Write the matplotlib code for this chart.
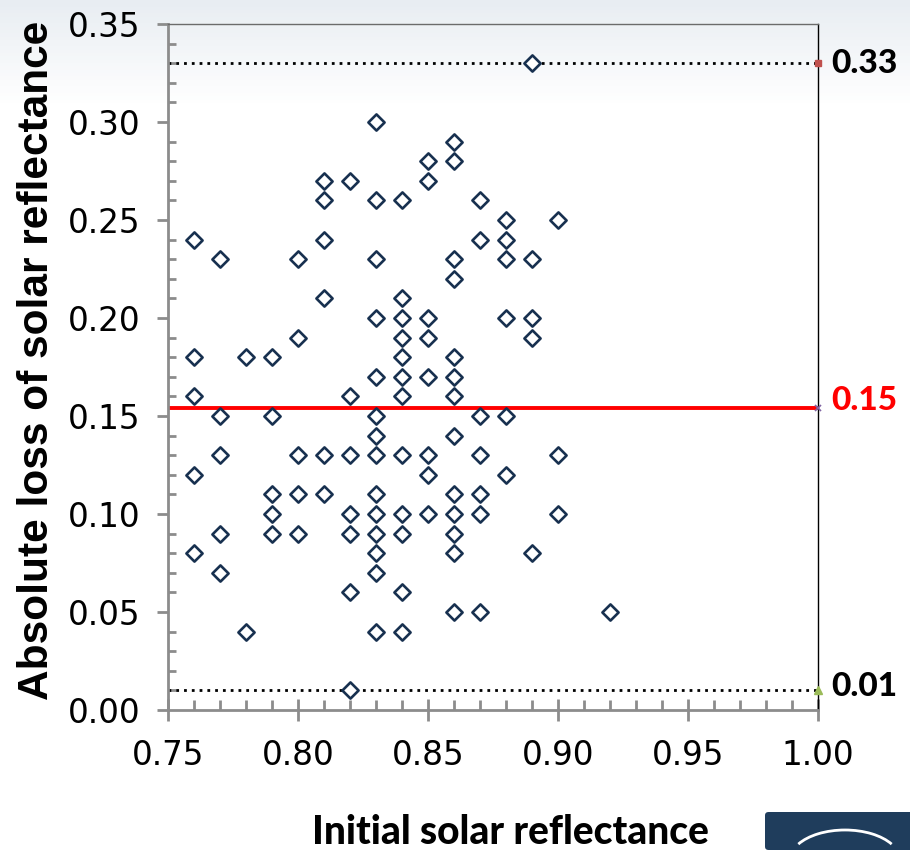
import numpy as np
import matplotlib
matplotlib.use("Agg")
import matplotlib.pyplot as plt
from matplotlib.patches import FancyBboxPatch, Arc
from matplotlib.ticker import MultipleLocator

# --- data: initial reflectance -> list of absolute losses ---
initial = [0.76, 0.77, 0.78, 0.79, 0.80, 0.81, 0.82, 0.83, 0.84, 0.85,
           0.86, 0.87, 0.88, 0.89, 0.90, 0.92]
losses = [
    [0.24, 0.18, 0.16, 0.12, 0.08],
    [0.23, 0.15, 0.13, 0.09, 0.07],
    [0.18, 0.04],
    [0.18, 0.15, 0.11, 0.10, 0.09],
    [0.23, 0.19, 0.13, 0.11, 0.09],
    [0.27, 0.26, 0.24, 0.21, 0.13, 0.11],
    [0.27, 0.16, 0.13, 0.10, 0.09, 0.06, 0.01],
    [0.30, 0.26, 0.23, 0.20, 0.17, 0.15, 0.14, 0.13, 0.11, 0.10, 0.09, 0.08, 0.07, 0.04],
    [0.26, 0.21, 0.20, 0.19, 0.18, 0.17, 0.16, 0.13, 0.10, 0.09, 0.06, 0.04],
    [0.28, 0.27, 0.20, 0.19, 0.17, 0.13, 0.12, 0.10],
    [0.29, 0.28, 0.23, 0.22, 0.18, 0.17, 0.16, 0.14, 0.11, 0.10, 0.09, 0.08, 0.05],
    [0.26, 0.24, 0.15, 0.13, 0.11, 0.10, 0.05],
    [0.25, 0.24, 0.23, 0.20, 0.15, 0.12],
    [0.33, 0.23, 0.20, 0.19, 0.08],
    [0.25, 0.13, 0.10],
    [0.05],
]
loss_max = 0.33
loss_mean = 0.154
loss_min = 0.01
ref_labels = ["0.33", "0.15", "0.01"]

xs = np.concatenate([[x] * len(l) for x, l in zip(initial, losses)])
ys = np.concatenate(losses)

fig = plt.figure(figsize=(9.1, 8.5), dpi=100)

# slide-style background: light gradient at the top
bg = fig.add_axes([0, 0, 1, 1], zorder=-10)
grad = np.linspace(0, 1, 256)[:, None]
grad = np.clip(grad / 0.12, 0, 1)
top = np.array([0.91, 0.93, 0.95])
img = top[None, None, :] * (1 - grad[:, :, None]) + np.ones(3)[None, None, :] * grad[:, :, None]
bg.imshow(img, aspect="auto", extent=[0, 1, 0, 1], origin="upper")
bg.axis("off")

ax = fig.add_axes([168 / 910, 140 / 850, 650 / 910, 686 / 850])
ax.set_facecolor("none")

ax.scatter(xs, ys, marker="D", s=68, facecolors="white",
           edgecolors="#17304f", linewidths=1.9, zorder=3)

ax.axhline(loss_max, color="black", ls=(0, (1, 1.8)), lw=2, zorder=2)
ax.axhline(loss_min, color="black", ls=(0, (1, 1.8)), lw=2, zorder=2)
ax.axhline(loss_mean, color="#ff0000", lw=2.8, zorder=2)
ax.plot([1.0], [loss_max], marker="s", ms=5, color="#c0504d", clip_on=False, zorder=5)
ax.plot([1.0], [loss_mean], marker="x", ms=5, mew=1.2, color="#8064a2", clip_on=False, zorder=5)
ax.plot([1.0], [loss_min], marker="^", ms=6, color="#9bbb59", clip_on=False, zorder=5)

ax.set_xlim(0.75, 1.0)
ax.set_ylim(0.0, 0.35)
ax.xaxis.set_major_locator(MultipleLocator(0.05))
ax.xaxis.set_minor_locator(MultipleLocator(0.01))
ax.yaxis.set_major_locator(MultipleLocator(0.05))
ax.yaxis.set_minor_locator(MultipleLocator(0.01))
ax.xaxis.set_major_formatter(lambda v, p: f"{v:.2f}")
ax.yaxis.set_major_formatter(lambda v, p: f"{v:.2f}")

for s in ["left", "bottom"]:
    ax.spines[s].set_color("#8c8c8c")
    ax.spines[s].set_linewidth(2)
ax.spines["right"].set_color("black")
ax.spines["right"].set_linewidth(1)
ax.spines["top"].set_color("#6b6b6b")
ax.spines["top"].set_linewidth(1)

ax.tick_params(axis="y", which="major", direction="out", length=8, width=2,
               color="#8c8c8c", labelsize=23.5, pad=12)
ax.tick_params(axis="y", which="minor", direction="in", length=6, width=2,
               color="#8c8c8c")
ax.tick_params(axis="x", which="major", direction="inout", length=16, width=2,
               color="#8c8c8c", labelsize=23.5, pad=13)
ax.tick_params(axis="x", which="minor", direction="in", length=7, width=2,
               color="#8c8c8c")

ax.set_ylabel("Absolute loss of solar reflectance", fontsize=30.5,
              fontweight="bold", family="Liberation Sans")
ax.yaxis.set_label_coords(-0.17, 0.51)
fig.text(510 / 910, 1 - 832 / 850, "Initial solar reflectance", fontsize=28,
         fontweight="black", family="Lato", ha="center", va="center")

lbl_kw = dict(transform=ax.get_yaxis_transform(), fontsize=24, fontweight="black",
              family="Lato", va="center", ha="left", clip_on=False)
ax.text(1.02, loss_max, ref_labels[0], color="black", **lbl_kw)
ax.text(1.02, loss_mean + 0.004, ref_labels[1], color="#ff0000", **lbl_kw)
ax.text(1.02, loss_min + 0.002, ref_labels[2], color="black", **lbl_kw)

# logo block bottom right
logo = FancyBboxPatch((765 / 910, 0), 0.2, 38 / 850, boxstyle="round,pad=0,rounding_size=0.004",
                      transform=fig.transFigure, fc="#1f3d5c", ec="none", zorder=5)
fig.patches.append(logo)
arc = Arc((845 / 910, -10 / 850), 110 / 910, 60 / 850, theta1=20, theta2=160,
          transform=fig.transFigure, color="white", lw=2, zorder=6)
fig.patches.append(arc)

fig.savefig("out.png", dpi=100)
